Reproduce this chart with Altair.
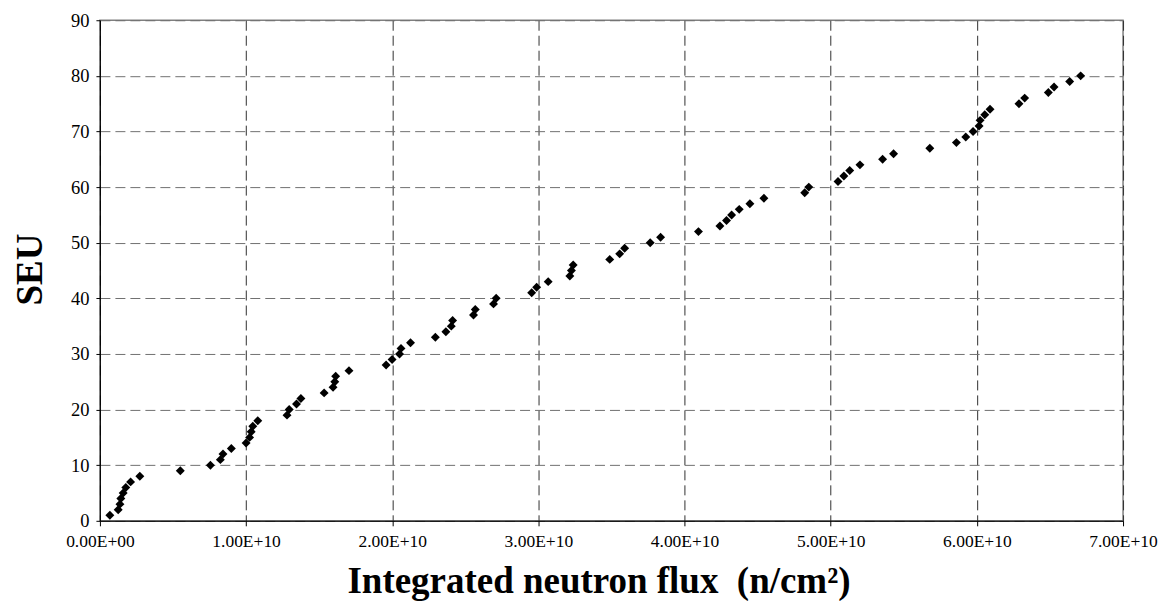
import altair as alt
import pandas as pd

# SEU count vs integrated neutron flux (n/cm^2)
seu = list(range(1, 81))
flux = [
    0.68e9, 1.25e9, 1.37e9, 1.43e9, 1.59e9, 1.77e9, 2.10e9, 2.73e9, 5.50e9, 7.56e9,
    8.24e9, 8.42e9, 8.99e9, 1.000e10, 1.024e10, 1.035e10, 1.046e10, 1.080e10, 1.280e10, 1.295e10,
    1.345e10, 1.375e10, 1.534e10, 1.595e10, 1.607e10, 1.613e10, 1.704e10, 1.958e10, 1.999e10, 2.050e10,
    2.060e10, 2.125e10, 2.295e10, 2.367e10, 2.404e10, 2.413e10, 2.556e10, 2.568e10, 2.693e10, 2.711e10,
    2.954e10, 2.988e10, 3.067e10, 3.215e10, 3.226e10, 3.238e10, 3.488e10, 3.556e10, 3.590e10, 3.765e10,
    3.836e10, 4.095e10, 4.242e10, 4.287e10, 4.322e10, 4.374e10, 4.447e10, 4.543e10, 4.822e10, 4.850e10,
    5.050e10, 5.090e10, 5.130e10, 5.200e10, 5.355e10, 5.430e10, 5.678e10, 5.860e10, 5.924e10, 5.974e10,
    6.015e10, 6.022e10, 6.054e10, 6.090e10, 6.288e10, 6.327e10, 6.489e10, 6.528e10, 6.635e10, 6.710e10,
]

x_tick_values = [0, 1e10, 2e10, 3e10, 4e10, 5e10, 6e10, 7e10]
x_tick_labels = ["0.00E+00", "1.00E+10", "2.00E+10", "3.00E+10", "4.00E+10",
                 "5.00E+10", "6.00E+10", "7.00E+10"]
y_tick_values = [0, 10, 20, 30, 40, 50, 60, 70, 80, 90]

x_title = "Integrated neutron flux\u00a0\u00a0(n/cm²)"
y_title = "SEU"

df = pd.DataFrame({"flux": flux, "seu": seu})

label_expr = "[{}][indexof([{}], datum.value)]".format(
    ",".join("'" + s + "'" for s in x_tick_labels),
    ",".join(repr(float(v)) for v in x_tick_values),
)

FONT = "Liberation Serif"

chart = alt.Chart(df).mark_point(
    shape="diamond", filled=True, color="black", size=80, opacity=1, strokeWidth=0
).encode(
    x=alt.X(
        "flux:Q",
        scale=alt.Scale(domain=[0, 7e10], nice=False, zero=True),
        axis=alt.Axis(
            values=x_tick_values,
            labelExpr=label_expr,
            title=x_title,
            titleX=499, titleY=72, titleBaseline="alphabetic", titleAlign="center",
            labelFont=FONT, labelFontSize=17.5, labelColor="black", labelPadding=7,
            labelOverlap=False, labelFlush=False,
            tickSize=5,
            gridColor="#303030",
        ),
    ),
    y=alt.Y(
        "seu:Q",
        scale=alt.Scale(domain=[0, 90], nice=False),
        axis=alt.Axis(
            values=y_tick_values,
            title=y_title,
            titleX=-58, titleY=249, titleAngle=270, titleBaseline="alphabetic", titleAlign="center",
            labelFont=FONT, labelFontSize=18.5, labelColor="black", labelPadding=7,
            tickSize=4,
            gridColor="#707070",
        ),
    ),
).properties(
    width=1024,
    height=501,
    background="white",
    autosize=alt.AutoSizeParams(type="none"),
    padding={"left": 92, "top": 12, "right": 40, "bottom": 80},
).configure_axis(
    titleFont=FONT, titleFontSize=37, titleFontWeight="bold", titleColor="black",
    tickColor="black", domainColor="black", domainWidth=1, tickWidth=1,
    grid=True, gridDash=[10, 5], gridWidth=1, gridOpacity=1,
).configure_view(
    stroke="#808080", strokeWidth=1.5
)

chart.save("out.html", embed_options={"renderer": "svg", "actions": False})
